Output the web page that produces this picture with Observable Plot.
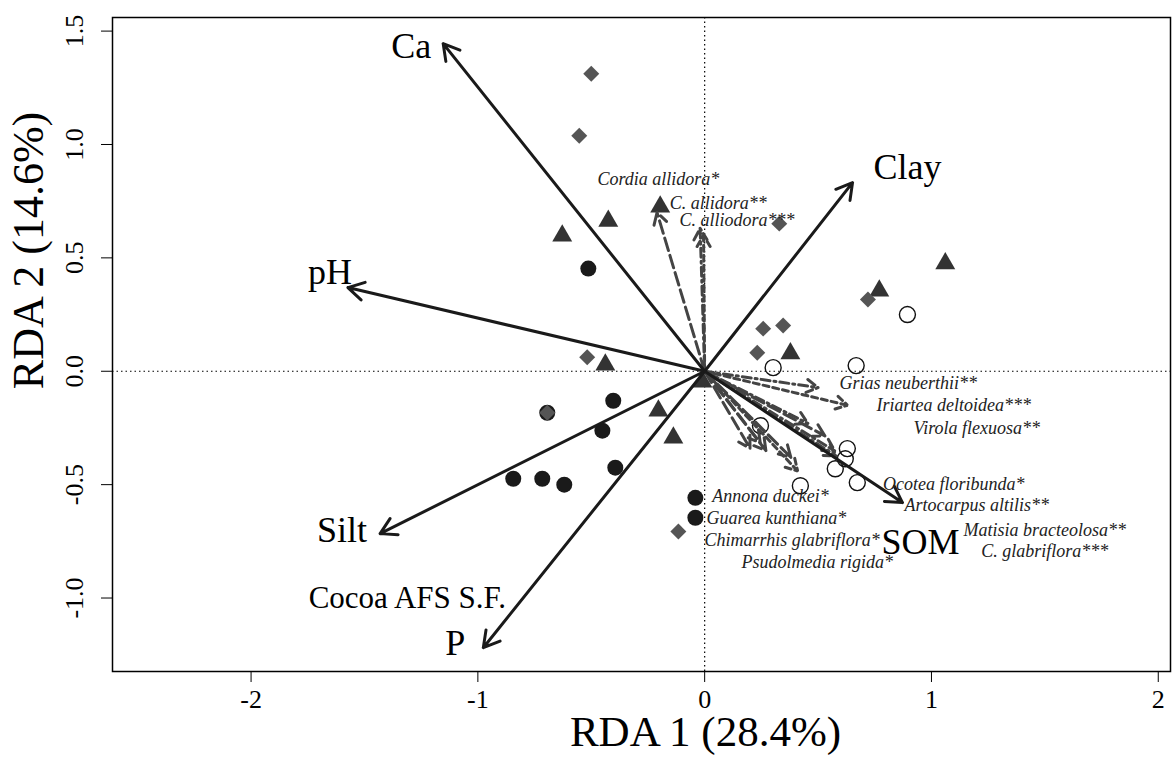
<!DOCTYPE html>
<html><head><meta charset="utf-8">
<script src="https://cdn.jsdelivr.net/npm/d3@7"></script>
<script src="https://cdn.jsdelivr.net/npm/@observablehq/plot@0.6"></script>
<style>body{margin:0;background:#fff}</style>
</head><body><div id="chart"></div>
<script>
// ---- data ----
const xTicks = [-2, -1, 0, 1, 2];
const yTicks = [-1.0, -0.5, 0.0, 0.5, 1.0, 1.5];

// environmental vectors (tips) and label positions
const envNames = ["Ca", "Clay", "pH", "Silt", "P", "SOM"];
const envX = [-1.153, 0.652, -1.573, -1.431, -0.976, 0.872];
const envY = [1.445, 0.832, 0.369, -0.716, -1.219, -0.579];
const envLabX = [-1.294, 0.894, -1.652, -1.599, -1.10, 0.952];
const envLabY = [1.432, 0.898, 0.435, -0.703, -1.202, -0.756];

// species vectors (tips) and label positions
const spNames = ["Cordia allidora*", "C. allidora**", "C. alliodora***", "Grias neuberthii**",
  "Iriartea deltoidea***", "Virola flexuosa**", "Ocotea floribunda*", "Artocarpus altilis**",
  "Matisia bracteolosa**", "C. glabriflora***", "Annona duckei*", "Guarea kunthiana*",
  "Chimarrhis glabriflora*", "Psudolmedia rigida*"];
const spX = [-0.21, -0.02, -0.005, 0.50, 0.63, 0.455, 0.53, 0.58, 0.573, 0.41, 0.245, 0.20, 0.27, 0.38];
const spY = [0.70, 0.63, 0.60, -0.072, -0.15, -0.23, -0.285, -0.374, -0.351, -0.44, -0.315, -0.34, -0.35, -0.38];
const spLabX = [-0.204, 0.06, 0.143, 0.898, 1.098, 1.20, 1.098, 1.20, 1.50, 1.50, 0.29, 0.316, 0.386, 0.496];
const spLabY = [0.845, 0.742, 0.668, -0.055, -0.152, -0.25, -0.496, -0.593, -0.703, -0.792, -0.553, -0.65, -0.747, -0.844];

// site scores by group
const circX = [-0.513, -0.403, -0.694, -0.451, -0.394, -0.844, -0.716, -0.619, -0.041, -0.041];
const circY = [0.453, -0.130, -0.183, -0.262, -0.425, -0.474, -0.474, -0.500, -0.558, -0.646];
const openX = [0.302, 0.668, 0.894, 0.246, 0.629, 0.620, 0.576, 0.673, 0.422];
const openY = [0.016, 0.025, 0.250, -0.240, -0.341, -0.386, -0.430, -0.491, -0.505];
const triX = [-0.628, -0.425, -0.196, -0.438, -0.204, -0.138, -0.010, 0.378, 0.770, 1.061];
const triY = [0.598, 0.663, 0.725, 0.029, -0.174, -0.293, -0.046, 0.078, 0.355, 0.475];
const diaX = [-0.500, -0.553, 0.329, 0.720, 0.258, 0.346, 0.232, -0.518, -0.694, -0.116];
const diaY = [1.312, 1.039, 0.651, 0.316, 0.188, 0.202, 0.082, 0.062, -0.183, -0.707];

const groupLabel = "Cocoa AFS S.F.";
const groupLabX = -1.311, groupLabY = -1.0;
const xTitle = "RDA 1 (28.4%)";
const yTitle = "RDA 2 (14.6%)";

// ---- build tables ----
const env = envNames.map((n, i) => ({name: n, x: envX[i], y: envY[i], lx: envLabX[i], ly: envLabY[i]}));
const sp = spNames.map((n, i) => ({name: n, x: spX[i], y: spY[i], lx: spLabX[i], ly: spLabY[i],
  stars: (n.match(/\*+$/) || [""])[0].length}));
const pts = (xs, ys) => xs.map((x, i) => ({x, y: ys[i]}));
const dashFor = {1: "13,5", 2: "9,4,2,4", 3: "6,4"};

const chart = Plot.plot({
  width: 1172, height: 760,
  marginLeft: 112, marginRight: 2, marginTop: 17, marginBottom: 89,
  x: {domain: [-2.611, 2.054], ticks: xTicks, tickFormat: d => String(d), tickSize: 11, tickPadding: 7, label: null},
  y: {domain: [-1.324, 1.56], ticks: yTicks, tickFormat: d => d.toFixed(1), tickSize: 11, tickPadding: 19, tickRotate: -90, label: null},
  style: {fontFamily: "'Liberation Serif', 'Times New Roman', serif", fontSize: "26px", background: "white", color: "black"},
  marks: [
    Plot.ruleX([0], {stroke: "black", strokeWidth: 1.2, strokeDasharray: "1.5,3"}),
    Plot.ruleY([0], {stroke: "black", strokeWidth: 1.2, strokeDasharray: "1.5,3"}),
    Plot.frame({stroke: "black", strokeWidth: 1.5}),
    Plot.dot(pts(circX, circY), {x: "x", y: "y", r: 8, fill: "#1a1a1a", stroke: "none"}),
    Plot.dot(pts(openX, openY), {x: "x", y: "y", r: 8, fill: "none", stroke: "#111", strokeWidth: 1.4}),
    Plot.dot(pts(triX, triY), {x: "x", y: "y", r: 7.4, symbol: "triangle", fill: "#333", stroke: "none"}),
    Plot.dot(pts(diaX, diaY), {x: "x", y: "y", r: 7.2, symbol: "diamond2", fill: "#555", stroke: "none"}),
    ...[1, 2, 3].map(s => Plot.arrow(sp.filter(d => d.stars === s), {
      x1: () => 0, y1: () => 0, x2: "x", y2: "y",
      stroke: "#444", strokeWidth: 3, headLength: 6.5, headAngle: 60,
      strokeDasharray: dashFor[s]
    })),
    Plot.arrow(env, {x1: () => 0, y1: () => 0, x2: "x", y2: "y",
      stroke: "#1a1a1a", strokeWidth: 3, headLength: 9, headAngle: 60}),
    Plot.text(env, {x: "lx", y: "ly", text: "name", fontSize: 36, fill: "black"}),
    Plot.text(sp, {x: "lx", y: "ly", text: "name", fontSize: 18, fontStyle: "italic", fill: "#222"}),
    Plot.text([groupLabel], {x: () => groupLabX, y: () => groupLabY, text: d => d, fontSize: 31, fill: "black"}),
    Plot.text([xTitle], {frameAnchor: "bottom", lineAnchor: "middle", textAnchor: "middle", dx: 64, dy: 61, text: d => d, fontSize: 43, fill: "black"}),
    Plot.text([yTitle], {frameAnchor: "left", lineAnchor: "middle", textAnchor: "middle", dx: -84, dy: -94, rotate: -90, text: d => d, fontSize: 44, fill: "black"})
  ]
});
document.getElementById("chart").appendChild(chart);
</script></body></html>
